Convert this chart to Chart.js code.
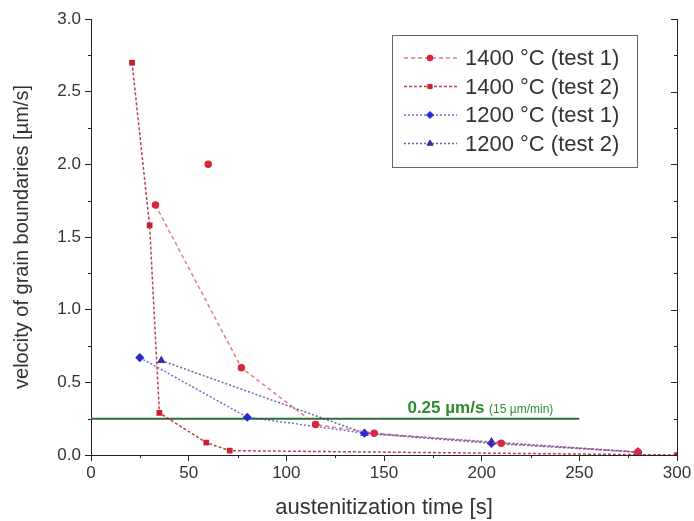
<!DOCTYPE html>
<html>
<head>
  <title>Grain boundary velocity</title>
  <script src="https://cdn.jsdelivr.net/npm/chart.js@4.4.0/dist/chart.umd.min.js"></script>
  <style>
body { margin: 0; background: #fff; }
.chart-box { width: 694px; height: 521px; }
  </style>
</head>
<body>
  <div class="chart-box"><canvas id="velChart" width="694" height="521"></canvas></div>
  <script type="text/javascript">
    // values
    var t1400a = [60, 60, 33, 77, 115, 145, 210, 280];
    var v1400a = [2.00, null, 1.72, 0.60, 0.21, 0.15, 0.08, 0.02];
    var t1400b = [21, 30, 35, 59, 71, 300];
    var v1400b = [2.70, 1.58, 0.29, 0.085, 0.03, 0.0];
    var t1200a = [25, 80, 140, 205, 280];
    var v1200a = [0.67, 0.26, 0.15, 0.08, 0.02];
    var t1200b = [36, 140, 205, 280];
    var v1200b = [0.65, 0.15, 0.09, 0.02];
    var limitT = [0, 250];
    var limitV = [0.25, 0.25];
    var seriesNames = ['1400 °C (test 1)', '1400 °C (test 2)', '1200 °C (test 1)', '1200 °C (test 2)'];

    function pts(xs, ys) {
      return xs.map(function(x, i) { return { x: x, y: ys[i] }; });
    }

    var FONT = "'Liberation Sans', Arial, sans-serif";

    // minor ticks, right axis, legend and the limit label
    var extras = {
      id: 'extras',
      afterDraw: function(chart) {
        var ctx = chart.ctx, a = chart.chartArea;
        var xs = chart.scales.x, ys = chart.scales.y;
        ctx.save();
        ctx.strokeStyle = '#222';
        ctx.lineWidth = 1;
        // right axis
        ctx.beginPath();
        ctx.moveTo(Math.round(a.right) + 0.5, a.top);
        ctx.lineTo(Math.round(a.right) + 0.5, a.bottom);
        for (var v = 0; v <= 3.0001; v += 0.25) {
          var py = Math.round(ys.getPixelForValue(v)) + 0.5;
          var len = (Math.abs(v * 2 - Math.round(v * 2)) < 1e-6) ? 6 : 3;
          ctx.moveTo(a.right, py); ctx.lineTo(a.right - len, py);
          if (len === 3) { ctx.moveTo(a.left, py); ctx.lineTo(a.left - 3, py); }
        }
        for (var t = 25; t < 300; t += 50) {
          var px = Math.round(xs.getPixelForValue(t)) + 0.5;
          ctx.moveTo(px, a.bottom); ctx.lineTo(px, a.bottom + 3);
        }
        ctx.stroke();

        // limit label
        var lx = xs.getPixelForValue(162), ly = ys.getPixelForValue(0.25) - 6;
        ctx.fillStyle = '#2e8b2e';
        ctx.textBaseline = 'alphabetic';
        ctx.font = 'bold 17px ' + FONT;
        ctx.fillText('0.25 µm/s', lx, ly);
        var w = ctx.measureText('0.25 µm/s ').width;
        ctx.font = '12px ' + FONT;
        ctx.fillText('(15 µm/min)', lx + w, ly);

        // legend
        var bx = 392, by = 35, bw = 245, bh = 132;
        ctx.strokeStyle = '#666';
        ctx.strokeRect(bx + 0.5, by + 0.5, bw, bh);
        ctx.font = '22px ' + FONT;
        ctx.textBaseline = 'middle';
        for (var i = 0; i < 4; i++) {
          var ds = chart.data.datasets[i];
          var ey = by + 23 + i * 28.5;
          ctx.strokeStyle = ds.borderColor;
          ctx.lineWidth = ds.borderWidth;
          ctx.setLineDash(ds.borderDash);
          ctx.beginPath();
          ctx.moveTo(bx + 12, ey); ctx.lineTo(bx + 65, ey);
          ctx.stroke();
          ctx.setLineDash([]);
          ctx.fillStyle = ds.pointBackgroundColor;
          ctx.strokeStyle = ds.pointBorderColor;
          ctx.lineWidth = 1;
          Chart.helpers.drawPoint(ctx, { pointStyle: ds.pointStyle, radius: ds.pointRadius, borderWidth: 1, rotation: 0 }, bx + 38, ey);
          ctx.fillStyle = '#333';
          ctx.fillText(seriesNames[i], bx + 73, ey + 1);
        }
        ctx.restore();
      }
    };

    var ctx = document.getElementById('velChart').getContext('2d');
    var velChart = new Chart(ctx, {
      type: 'line',
      data: {
        datasets: [{
          label: seriesNames[0],
          data: pts(t1400a, v1400a),
          borderColor: 'rgba(215, 70, 90, 0.7)',
          borderWidth: 1.5,
          borderDash: [4, 3],
          pointStyle: 'circle',
          pointRadius: 3,
          pointBackgroundColor: '#d8283c',
          pointBorderColor: '#d8283c'
        }, {
          label: seriesNames[1],
          data: pts(t1400b, v1400b),
          borderColor: 'rgba(176, 32, 46, 0.85)',
          borderWidth: 1.5,
          borderDash: [3, 2],
          pointStyle: 'rect',
          pointRadius: 3,
          pointBackgroundColor: '#c8202e',
          pointBorderColor: '#c8202e'
        }, {
          label: seriesNames[2],
          data: pts(t1200a, v1200a),
          borderColor: 'rgba(60, 60, 200, 0.75)',
          borderWidth: 1.5,
          borderDash: [2, 2],
          pointStyle: 'rectRot',
          pointRadius: 3.5,
          pointBackgroundColor: '#2828d0',
          pointBorderColor: '#2828d0'
        }, {
          label: seriesNames[3],
          data: pts(t1200b, v1200b),
          borderColor: 'rgba(50, 50, 150, 0.75)',
          borderWidth: 1.5,
          borderDash: [2, 2],
          pointStyle: 'triangle',
          pointRadius: 3.5,
          pointBackgroundColor: '#3030a0',
          pointBorderColor: '#3030a0'
        }, {
          label: 'limit',
          data: pts(limitT, limitV),
          borderColor: '#2f6b3a',
          borderWidth: 2,
          pointRadius: 0
        }]
      },
      options: {
        responsive: false,
        animation: false,
        spanGaps: false,
        layout: { padding: { top: 19, right: 17, left: 0, bottom: 0 } },
        plugins: { legend: { display: false }, tooltip: { enabled: false } },
        scales: {
          x: {
            type: 'linear',
            min: 0, max: 300,
            afterFit: function(s) { s.height = 66; },
            ticks: { stepSize: 50, color: '#333', padding: 2, font: { family: FONT, size: 17 } },
            grid: { drawOnChartArea: false, tickLength: 6, color: '#222' },
            border: { display: true, color: '#222', width: 1 },
            title: { display: true, text: 'austenitization time [s]', color: '#333', padding: { top: 3, bottom: 0 }, font: { family: FONT, size: 22 } }
          },
          y: {
            min: 0, max: 3.0,
            afterFit: function(s) { s.width = 91; },
            ticks: { stepSize: 0.5, color: '#333', padding: 4, font: { family: FONT, size: 17 },
              callback: function(v) { return v.toFixed(1); } },
            grid: { drawOnChartArea: false, tickLength: 6, color: '#222' },
            border: { display: true, color: '#222', width: 1 },
            title: { display: true, text: 'velocity of grain boundaries [µm/s]', color: '#333', padding: { top: 10, bottom: 0 }, font: { family: FONT, size: 20 } }
          }
        }
      },
      plugins: [extras]
    });
  </script>
</body>
</html>
